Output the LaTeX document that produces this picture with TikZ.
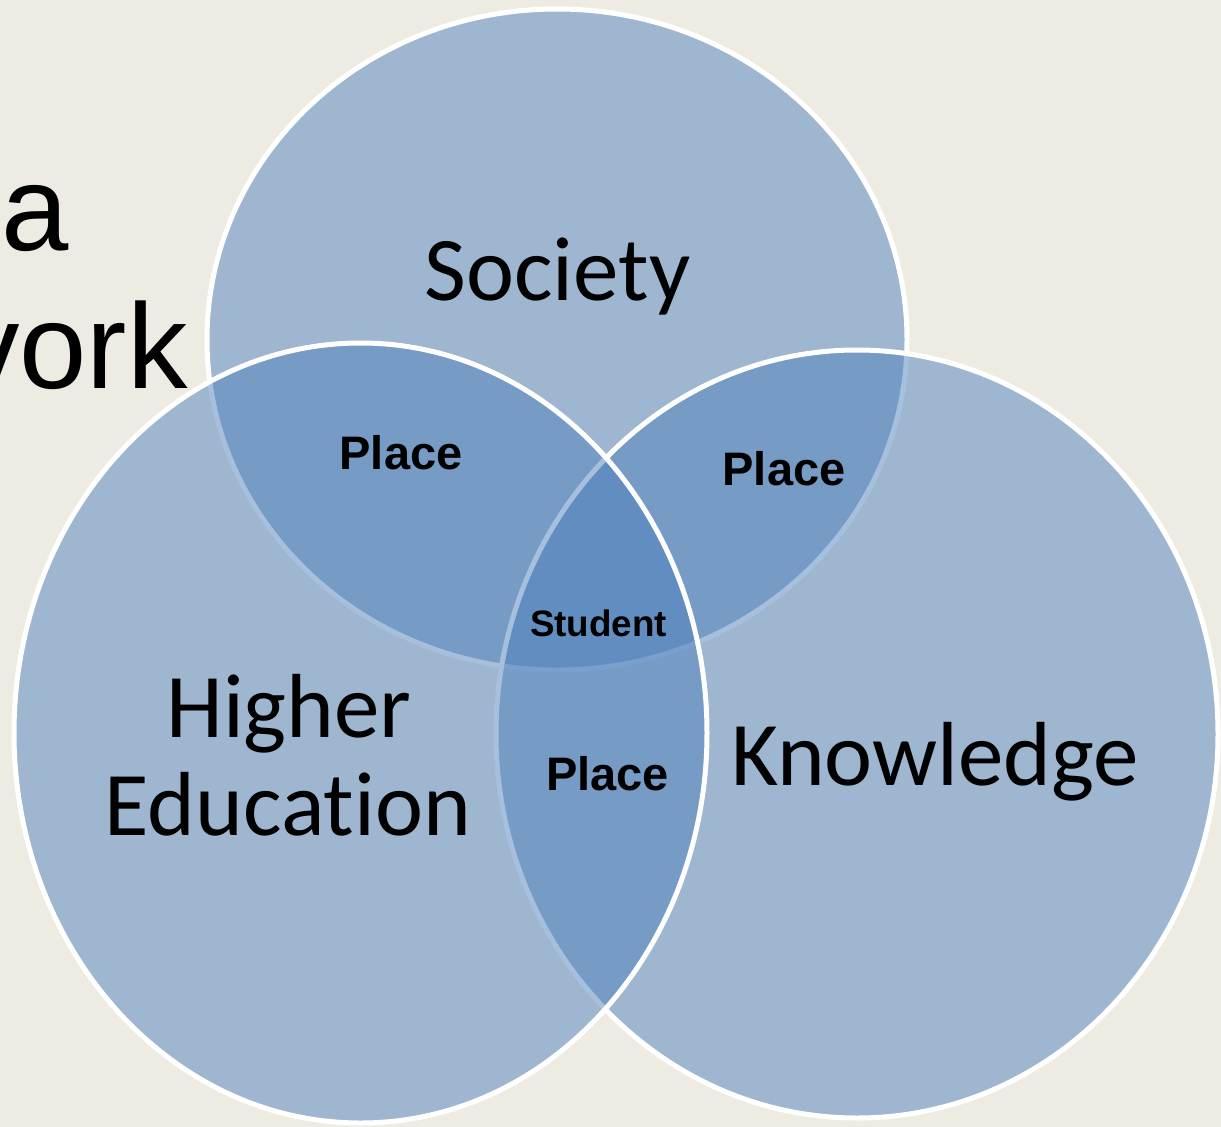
\documentclass[tikz,border=0pt]{standalone}
\usepackage{fontspec}
\setmainfont{Carlito}[Ligatures=NoCommon]
\newfontfamily\arialfont{Liberation Sans}
\definecolor{bgbeige}{HTML}{EEECE2}
\definecolor{vennblue}{HTML}{4F81BD}
\tikzset{
  venn/.style={fill=vennblue, fill opacity=0.5, draw=white, line width=5pt},
  biglabel/.style={font=\fontsize{91}{98}\selectfont, text=black, inner sep=0pt, anchor=base},
  placelabel/.style={font=\arialfont\bfseries\fontsize{47}{52}\selectfont, text=black, inner sep=0pt, anchor=base},
  titlefrag/.style={font=\arialfont\fontsize{121}{130}\selectfont, text=black, inner sep=0pt, anchor=base east}
}
\begin{document}
\begin{tikzpicture}[x=1pt,y=-1pt]
  \fill[bgbeige] (0,0) rectangle (1221,1127);
  \useasboundingbox (0,0) rectangle (1221,1127);
  \begin{scope}
    \clip (0,0) rectangle (1221,1127);
    % title fragments
    \node[titlefrag] (ta) at (69,250) {a};
    \node[titlefrag] (tw) at (188,388) {vork};
    % circles: top, right, left (left drawn last)
    \path[venn] (557,339.5) ellipse [x radius=350pt, y radius=330.5pt];
    \path[venn] (857,734) ellipse [x radius=361pt, y radius=384pt];
    \path[venn] (360.5,733) ellipse [x radius=346.5pt, y radius=390pt];
  \end{scope}
  % labels
  \node[biglabel] (soc) at (557.5,300) {Society};
  \node[biglabel] (hi) at (289,737) {Higher};
  \node[biglabel] (ed) at (288,835) {Education};
  \node[biglabel] (kn) at (935,785) {Knowledge};
  \node[placelabel] (p1) at (401,469) {Place};
  \node[placelabel] (p2) at (784,485) {Place};
  \node[placelabel] (p3) at (607.5,790) {Place};
  \node[placelabel, font=\arialfont\bfseries\fontsize{36.8}{40}\selectfont] (st) at (598.5,636) {Student};
\end{tikzpicture}
\end{document}
